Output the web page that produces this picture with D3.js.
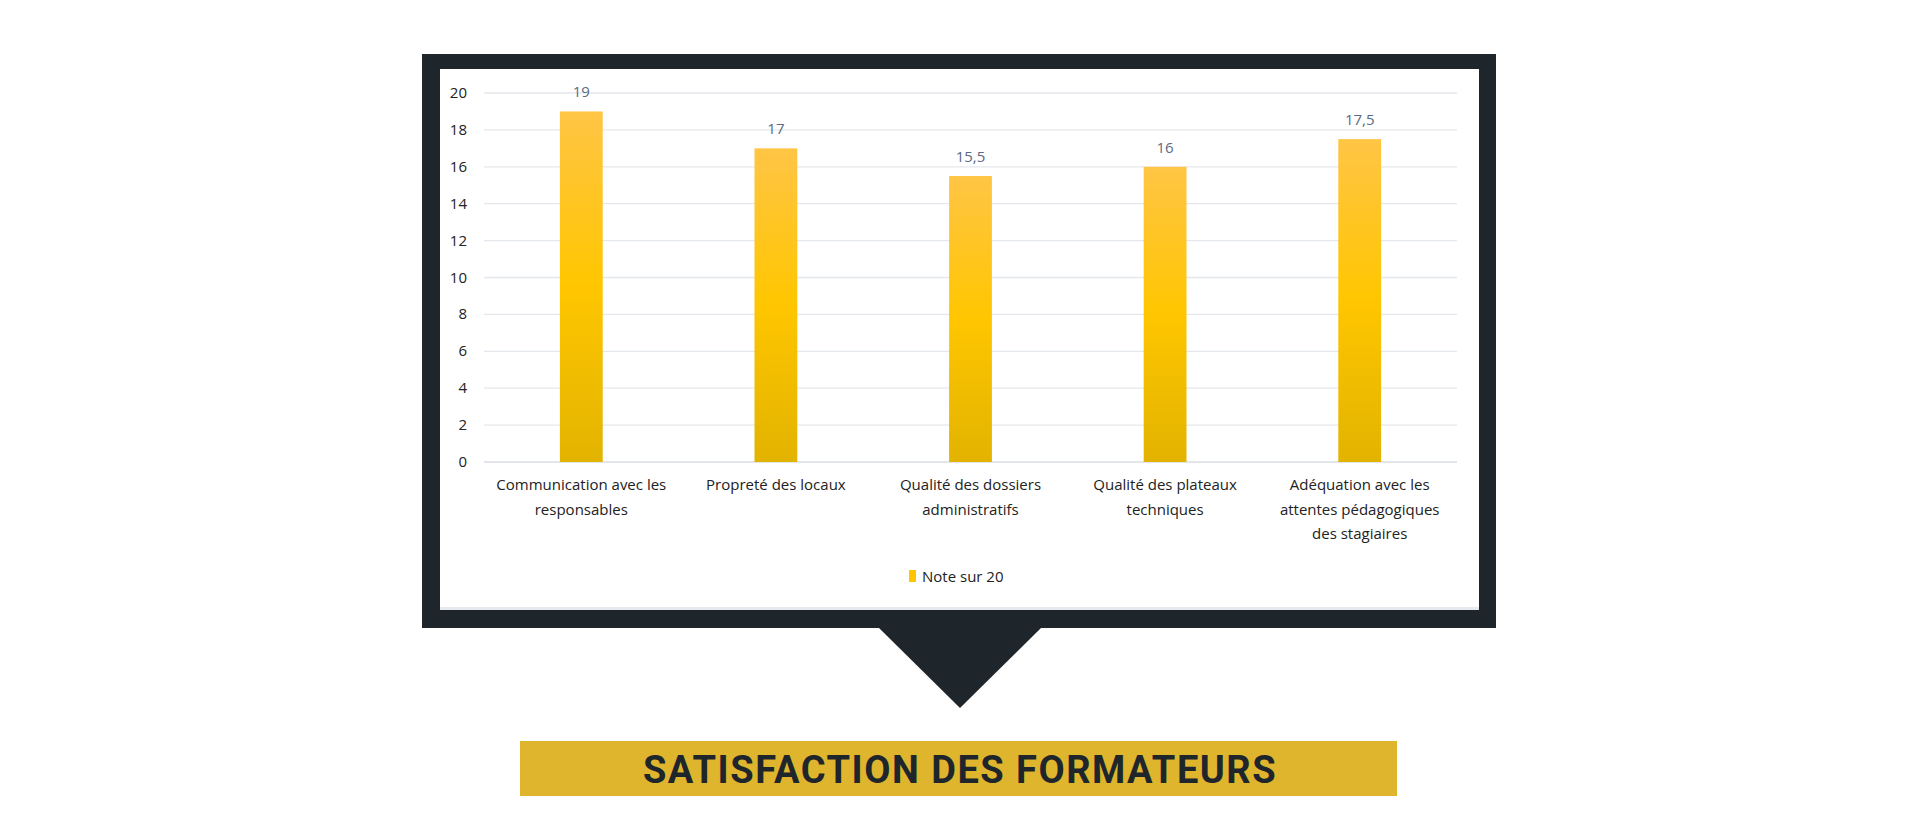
<!DOCTYPE html>
<html><head><meta charset="utf-8">
<script src="https://cdn.jsdelivr.net/npm/d3@7/dist/d3.min.js"></script>
<style>body{margin:0;background:#fff}</style>
</head><body>
<svg width="1920" height="840"></svg>
<script>
var categories = [
  ["Communication avec les", "responsables"],
  ["Propreté des locaux"],
  ["Qualité des dossiers", "administratifs"],
  ["Qualité des plateaux", "techniques"],
  ["Adéquation avec les", "attentes pédagogiques", "des stagiaires"]
];
var values = [19, 17, 15.5, 16, 17.5];
var yTicks = [0, 2, 4, 6, 8, 10, 12, 14, 16, 18, 20];
var seriesName = "Note sur 20";
var title = "SATISFACTION DES FORMATEURS";

var svg = d3.select("svg");
var font = "'Open Sans', 'Noto Sans', sans-serif";

// frame
svg.append("rect").attr("x", 422).attr("y", 54).attr("width", 1074).attr("height", 574).attr("fill", "#1f262b");
svg.append("rect").attr("x", 440).attr("y", 69).attr("width", 1039).attr("height", 541).attr("fill", "#fff");
svg.append("rect").attr("x", 440).attr("y", 607).attr("width", 1039).attr("height", 3).attr("fill", "#e6e9ee");
svg.append("path").attr("d", "M879,628 L1041,628 L960,708 Z").attr("fill", "#1f262b");

// title bar
svg.append("rect").attr("x", 520).attr("y", 741).attr("width", 877).attr("height", 55).attr("fill", "#dfb52e");
svg.append("text").attr("x", 960).attr("y", 783).attr("text-anchor", "middle")
  .attr("font-family", "Roboto, sans-serif").attr("font-weight", 700).attr("font-size", 38)
  .attr("letter-spacing", 1.5).attr("fill", "#1f262b").text(title);

var defs = svg.append("defs");
var grad = defs.append("linearGradient").attr("id", "g").attr("x1", 0).attr("y1", 0).attr("x2", 0).attr("y2", 1);
grad.append("stop").attr("offset", "0%").attr("stop-color", "#ffc545");
grad.append("stop").attr("offset", "50%").attr("stop-color", "#ffc600");
grad.append("stop").attr("offset", "100%").attr("stop-color", "#e2b300");

var x = d3.scaleBand().domain(d3.range(values.length)).range([484, 1457]).paddingInner(0.78).paddingOuter(0.39);
var y = d3.scaleLinear().domain([0, 20]).range([462, 93]);

var g = svg.append("g");
g.selectAll(".grid").data(yTicks).enter().append("line")
  .attr("x1", 484).attr("x2", 1457).attr("y1", d => y(d)).attr("y2", d => y(d))
  .attr("stroke", d => d === 0 ? "#d9dde3" : "#e4e7ec").attr("stroke-width", 1.3);

g.selectAll(".yl").data(yTicks).enter().append("text")
  .attr("x", 467).attr("y", d => y(d) + 5).attr("text-anchor", "end")
  .attr("font-family", font).attr("font-size", 15).attr("fill", "#222").text(d => d);

g.selectAll(".bar").data(values).enter().append("rect")
  .attr("x", (d, i) => x(i)).attr("width", x.bandwidth())
  .attr("y", d => y(d)).attr("height", d => y(0) - y(d)).attr("fill", "url(#g)");

g.selectAll(".vl").data(values).enter().append("text")
  .attr("x", (d, i) => x(i) + x.bandwidth() / 2).attr("y", d => y(d) - 14)
  .attr("text-anchor", "middle").attr("font-family", font).attr("font-size", 15)
  .attr("fill", "#5b6b84").text(d => String(d).replace(".", ","));

categories.forEach(function(lines, i) {
  var t = g.append("text").attr("text-anchor", "middle").attr("font-family", font)
    .attr("font-size", 15).attr("fill", "#222");
  lines.forEach(function(l, j) {
    t.append("tspan").attr("x", x(i) + x.bandwidth() / 2).attr("y", 490 + j * 24.5).text(l);
  });
});

// legend
svg.append("rect").attr("x", 909).attr("y", 570).attr("width", 7).attr("height", 12).attr("fill", "#ffc600");
svg.append("text").attr("x", 922).attr("y", 582).attr("font-family", font).attr("font-size", 15)
  .attr("fill", "#222").text(seriesName);
</script>
</body></html>
